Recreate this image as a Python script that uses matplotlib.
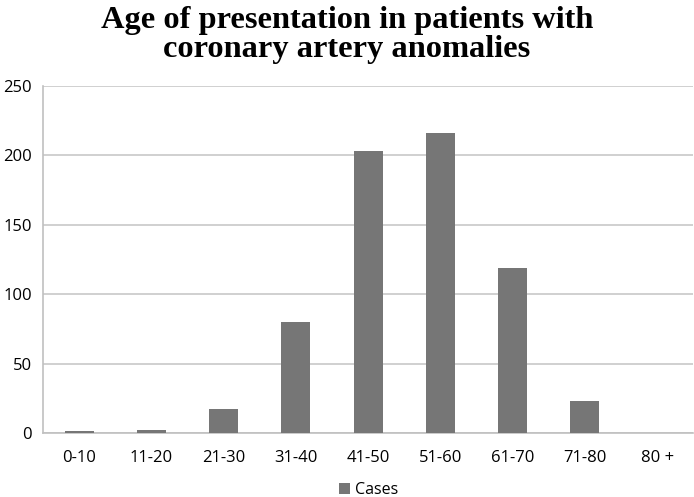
import matplotlib.pyplot as plt

# Age groups and number of cases
age_groups = ["0-10", "11-20", "21-30", "31-40", "41-50", "51-60", "61-70", "71-80", "80 +"]
cases = [1, 2, 17, 80, 203, 216, 119, 23, 0]
y_ticks = [0, 50, 100, 150, 200, 250]

fig = plt.figure(figsize=(6.94, 4.97), dpi=100)
ax = fig.add_axes([0.062, 0.129, 0.937, 0.698])

x = range(len(age_groups))
ax.bar(x, cases, width=0.4, color="#767676", label="Cases", zorder=3)

ax.set_xlim(-0.5, len(age_groups) - 0.5)
ax.set_ylim(0, 250)
ax.set_yticks(y_ticks)
ax.set_xticks(list(x))
ax.set_xticklabels(age_groups)

# Gridlines and spines
ax.grid(axis="y", color="#c8c8c8", linewidth=1.2, zorder=0)
for side in ["top", "right"]:
    ax.spines[side].set_visible(False)
for side in ["left", "bottom"]:
    ax.spines[side].set_color("#c0c0c0")
    ax.spines[side].set_linewidth(1.2)
ax.tick_params(axis="both", length=0, labelsize=12, colors="#000000", pad=12)
ax.tick_params(axis="y", pad=8)
for lbl in ax.get_xticklabels() + ax.get_yticklabels():
    lbl.set_fontfamily("Open Sans")

fig.suptitle("Age of presentation in patients with\ncoronary artery anomalies",
             fontsize=23.3, fontweight="bold", fontfamily="Liberation Serif",
             y=0.988, linespacing=1.0)

ax.legend(loc="upper center", bbox_to_anchor=(0.5, -0.1), frameon=False,
          prop={"family": "Open Sans", "size": 11.5}, handlelength=0.7,
          handleheight=0.7, handletextpad=0.3)

fig.savefig("out.png", dpi=100)
